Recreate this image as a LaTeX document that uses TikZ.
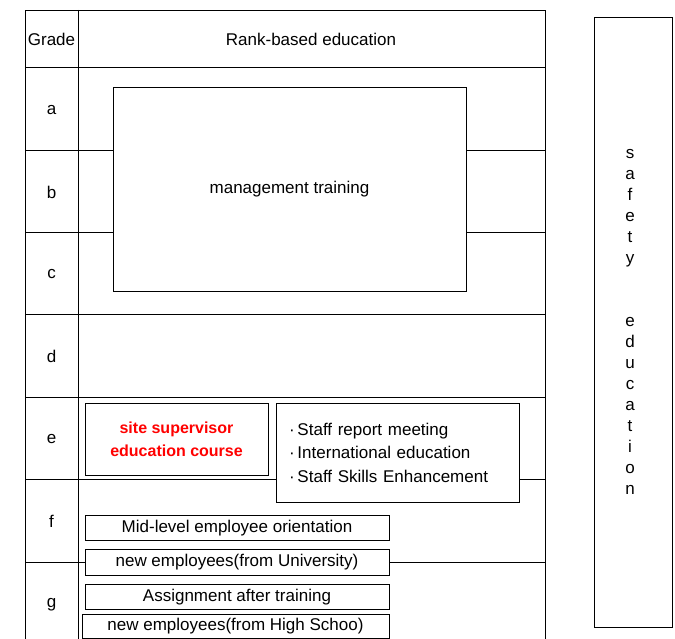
\documentclass[tikz,border=0pt]{standalone}
\usepackage{fontspec}
\setmainfont{Liberation Sans}
\usetikzlibrary{positioning}
\definecolor{supred}{RGB}{255,0,0}
\tikzset{
  grid/.style={line width=0.9pt},
  box/.style={draw, line width=0.9pt, inner sep=0pt, font=\fontsize{17}{20}\selectfont},
  rowbox/.style={box, minimum width=304pt, minimum height=25pt, text height=12pt, text depth=2.5pt},
  lbl/.style={font=\fontsize{17}{20}\selectfont, inner sep=0pt}
}

\begin{document}
\begin{tikzpicture}[x=1pt, y=-1pt]
    \useasboundingbox (0,0) rectangle (675,639);
    % table frame
    \draw[grid] (25,639) -- (25,10) -- (545,10) -- (545,639);
    \draw[grid] (78,10) -- (78,639);
    \draw[grid] (25,67) -- (545,67);
    \draw[grid] (25,314) -- (545,314);
    \draw[grid] (25,397) -- (545,397);
    \node[lbl] (gradehead) at (51.5,39.5) {Grade};
    \node[lbl] (rankhead) at (311,39.5) {Rank-based education};
    % grade letters
    \foreach \g/\y in {a/110,b/192,c/274,d/356.5,e/439,f/521,g/605}
      \node[lbl] (grade-\g) at (51.5,\y) {\g};
    % management
    \node[box, minimum width=353pt, minimum height=204pt] (mgmt) at (289.5,189) {management training};
    \draw[grid] (25,150) -- (mgmt.west |- 0,150);
    \draw[grid] (25,232) -- (mgmt.west |- 0,232);
    \draw[grid] (mgmt.east |- 0,150) -- (545,150);
    \draw[grid] (mgmt.east |- 0,232) -- (545,232);
    % row e
    \node[box, minimum width=183pt, minimum height=72pt, align=center, text=supred,
      font=\fontsize{16}{23}\selectfont\bfseries] (sitesup) at (176.5,439)
      {site supervisor\\education course};
    \node[box, minimum width=243pt, minimum height=99pt, align=left, text width=217pt,
      inner xsep=13pt, font=\fontsize{17}{23.5}\selectfont] (staff) at (397.5,452.5)
      {·\,Staff report meeting\\·\,International education\\·\,Staff Skills Enhancement};
    \draw[grid] (25,479) -- (staff.west |- 0,479);
    \draw[grid] (staff.east |- 0,479) -- (545,479);
    % rows f and g
    \node[rowbox] (midlevel) at (237,527.5) {Mid-level employee orientation};
    \node[rowbox, minimum height=26pt] (newuniv) at (237,562) {new employees(from University)};
    \node[rowbox] (assign) at (237,596.5) {Assignment after training};
    \node[rowbox, minimum width=307pt, minimum height=24pt] (newhigh) at (235.5,626) {new employees(from High Schoo)};
    \draw[grid] (25,562) -- (newuniv.west);
    \draw[grid] (newuniv.east) -- (545,562);
    % safety
    \node[box, minimum width=78pt, minimum height=610pt] (safety) at (633,322) {};
    \node[lbl, align=center, font=\fontsize{17}{21}\selectfont] (safetytext) at (630,322)
      {s\\a\\f\\e\\t\\y\\[42pt]e\\d\\u\\c\\a\\t\\i\\o\\n};
\end{tikzpicture}
\end{document}
